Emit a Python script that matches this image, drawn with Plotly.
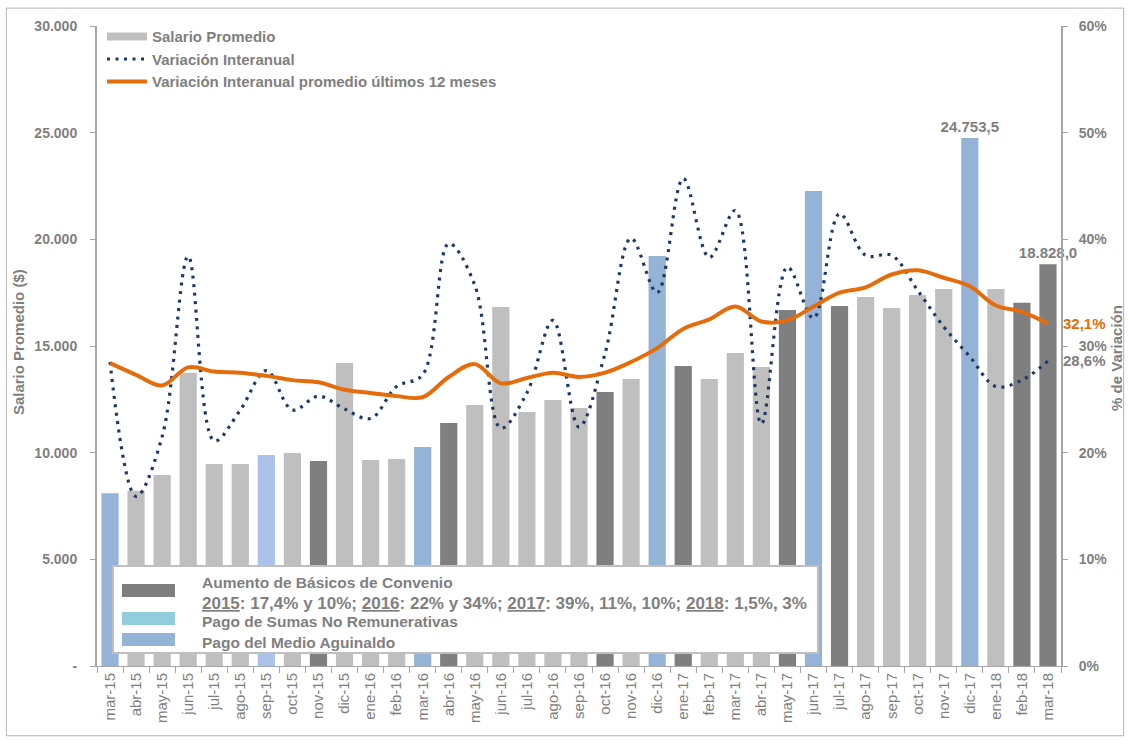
import plotly.graph_objects as go

# ---- data -------------------------------------------------------------
meses = ["mar-15", "abr-15", "may-15", "jun-15", "jul-15", "ago-15", "sep-15", "oct-15",
         "nov-15", "dic-15", "ene-16", "feb-16", "mar-16", "abr-16", "may-16", "jun-16",
         "jul-16", "ago-16", "sep-16", "oct-16", "nov-16", "dic-16", "ene-17", "feb-17",
         "mar-17", "abr-17", "may-17", "jun-17", "jul-17", "ago-17", "sep-17", "oct-17",
         "nov-17", "dic-17", "ene-18", "feb-18", "mar-18"]

salario = [8100, 8220, 8950, 13750, 9470, 9470, 9890, 9990, 9610, 14200, 9660, 9700,
           10270, 11390, 12230, 16830, 11910, 12470, 12090, 12840, 13450, 19220, 14060,
           13450, 14670, 14020, 16690, 22270, 16880, 17300, 16780, 17390, 17670, 24753.5,
           17670, 17030, 18828.0]

# B = salario sin novedades, A = aumento de básicos, G = medio aguinaldo, S = sumas no remunerativas
tipo = ["G", "B", "B", "B", "B", "B", "S", "B", "A", "B", "B", "B", "G", "A", "B", "B",
        "B", "B", "B", "A", "B", "G", "A", "B", "B", "B", "A", "G", "A", "B", "B", "B",
        "B", "G", "B", "A", "A"]

var_interanual = [28.5, 15.9, 21.5, 38.4, 21.1, 24.0, 27.7, 24.0, 25.3, 24.1, 23.2, 26.2,
                  27.3, 39.6, 35.7, 22.3, 25.6, 32.4, 22.4, 29.3, 40.1, 35.0, 45.7, 38.3,
                  42.7, 22.7, 37.4, 32.6, 42.4, 38.5, 38.5, 35.2, 31.8, 29.0, 26.2, 26.8,
                  28.6]

var_prom12 = [28.4, 27.3, 26.3, 28.0, 27.6, 27.5, 27.2, 26.8, 26.6, 25.9, 25.6, 25.3,
              25.2, 27.1, 28.3, 26.5, 27.0, 27.5, 27.1, 27.5, 28.5, 29.8, 31.6, 32.5,
              33.7, 32.3, 32.4, 33.7, 35.0, 35.5, 36.7, 37.1, 36.4, 35.6, 33.8, 33.2,
              32.1]

meses_con_etiqueta = ["dic-17", "mar-18"]

ticks_salario = [0, 5000, 10000, 15000, 20000, 25000, 30000]
ticks_pct = [0, 10, 20, 30, 40, 50, 60]

# ---- styles -----------------------------------------------------------
FONT = "Liberation Sans, Arial, sans-serif"
GRIS_TXT = "#7f7f7f"
GRIS_EJE = "#a6a6a6"
colores = {"B": "#bfbfbf", "A": "#7f7f7f", "G": "#95b3d7", "S": "#abc3ea"}
NAVY = "#1f3864"
NARANJA = "#e46c0a"

fig = go.Figure()

# Bars, one trace per kind of month so each keeps its own colour
for k in ["B", "A", "G", "S"]:
    xs = [m for m, t in zip(meses, tipo) if t == k]
    ys = [v for v, t in zip(salario, tipo) if t == k]
    fig.add_trace(go.Bar(
        x=xs, y=ys, name="Salario Promedio", showlegend=False,
        marker=dict(color=colores[k], line=dict(width=0)),
        texttemplate=["%{y:,.1f}" if m in meses_con_etiqueta else "" for m in xs],
        textposition="outside", cliponaxis=False, constraintext="none",
        outsidetextfont=dict(family=FONT, size=15, color=GRIS_TXT, weight="bold"),
        yaxis="y", hoverinfo="x+y",
    ))

# Legend swatch for the salary bars (wide grey band)
fig.add_trace(go.Scatter(
    x=[None], y=[None], mode="lines", name="Salario Promedio",
    line=dict(color="#bfbfbf", width=8), yaxis="y",
))

fig.add_trace(go.Scatter(
    x=meses, y=var_interanual, name="Variación Interanual", mode="lines",
    line=dict(color=NAVY, width=3.2, dash="3px,5.5px", shape="spline", smoothing=1.0),
    yaxis="y2",
))

fig.add_trace(go.Scatter(
    x=meses, y=var_prom12, name="Variación Interanual promedio últimos 12 meses",
    mode="lines",
    line=dict(color=NARANJA, width=4, shape="spline", smoothing=1.0),
    yaxis="y2",
))

# End-of-line value labels
fig.add_annotation(
    x=meses[-1], y=var_prom12[-1], xref="x", yref="y2",
    text=f"{var_prom12[-1]:.1f}".replace(".", ",") + "%",
    xanchor="left", yanchor="middle", xshift=13, showarrow=False,
    font=dict(family=FONT, size=15, color=NARANJA, weight="bold"),
)
fig.add_annotation(
    x=meses[-1], y=var_interanual[-1], xref="x", yref="y2",
    text=f"{var_interanual[-1]:.1f}".replace(".", ",") + "%",
    xanchor="left", yanchor="middle", xshift=13, showarrow=False,
    font=dict(family=FONT, size=15, color=GRIS_TXT, weight="bold"),
)

# Axis titles
fig.add_annotation(
    x=-0.082, y=0.506, xref="paper", yref="paper", text="Salario Promedio ($)",
    textangle=-90, showarrow=False, xanchor="center", yanchor="middle",
    font=dict(family=FONT, size=15, color=GRIS_TXT, weight="bold"),
)
fig.add_annotation(
    x=1.0575, y=0.482, xref="paper", yref="paper", text="% de Variación",
    textangle=-90, showarrow=False, xanchor="center", yanchor="middle",
    font=dict(family=FONT, size=15, color=GRIS_TXT, weight="bold"),
)

# Colour key box at the bottom of the plot
shapes = [
    dict(type="rect", xref="paper", yref="paper", x0=-0.094, x1=1.065, y0=-0.109, y1=1.028,
         line=dict(color="#b4b4b4", width=1), fillcolor="rgba(0,0,0,0)", layer="below"),
    dict(type="rect", xref="paper", yref="paper", x0=0.0166, x1=0.7479, y0=0.0203, y1=0.1562,
         line=dict(color="#bfbfbf", width=2), fillcolor="white", layer="above"),
    dict(type="rect", xref="paper", yref="paper", x0=0.0259, x1=0.0809, y0=0.1078, y1=0.128,
         line=dict(width=0), fillcolor="#7f7f7f", layer="above"),
    dict(type="rect", xref="paper", yref="paper", x0=0.0259, x1=0.0809, y0=0.0641, y1=0.0844,
         line=dict(width=0), fillcolor="#92cddc", layer="above"),
    dict(type="rect", xref="paper", yref="paper", x0=0.0259, x1=0.0809, y0=0.0312, y1=0.0516,
         line=dict(width=0), fillcolor="#95b3d7", layer="above"),
]

u = '<span style="text-decoration:underline">{}</span>'
clave = [
    (0.1312, 15.5, "Aumento de Básicos de Convenio"),
    (0.0984, 17, u.format("2015") + ": 17,4% y 10%; " + u.format("2016") + ": 22% y 34%; "
                 + u.format("2017") + ": 39%, 11%, 10%; " + u.format("2018") + ": 1,5%, 3%"),
    (0.0688, 15.5, "Pago de Sumas No Remunerativas"),
    (0.0375, 15.5, "Pago del Medio Aguinaldo"),
]
for yy, sz, txt in clave:
    fig.add_annotation(
        x=0.1069, y=yy, xref="paper", yref="paper", text=txt, showarrow=False,
        xanchor="left", yanchor="middle",
        font=dict(family=FONT, size=sz, color=GRIS_TXT, weight="bold"),
    )

fig.update_layout(
    width=1129, height=740,
    margin=dict(l=97, r=68, t=26, b=74),
    paper_bgcolor="white", plot_bgcolor="white",
    separators=",.",
    barmode="overlay", bargap=0.34,
    font=dict(family=FONT, color=GRIS_TXT),
    shapes=shapes,
    showlegend=True,
    legend=dict(
        x=0.0052, y=1.009, xanchor="left", yanchor="top",
        bgcolor="rgba(0,0,0,0)", borderwidth=0, itemwidth=40,
        font=dict(family=FONT, size=15, color=GRIS_TXT, weight="bold"),
        traceorder="normal",
    ),
    xaxis=dict(
        type="category", categoryorder="array", categoryarray=meses,
        range=[-0.5, len(meses) - 0.5],
        tickson="boundaries", ticks="outside", ticklen=6, tickcolor=GRIS_EJE,
        showline=True, linecolor=GRIS_EJE, linewidth=1,
        tickangle=-90, showgrid=False,
        tickfont=dict(family=FONT, size=15, color=GRIS_TXT),
    ),
    yaxis=dict(
        range=[0, 30000], tickvals=ticks_salario,
        ticktext=["-" if v == 0 else f"{v:,.0f}".replace(",", ".") for v in ticks_salario],
        ticks="outside", ticklen=5, tickcolor=GRIS_EJE,
        showline=True, linecolor=GRIS_EJE, linewidth=2,
        showgrid=False, zeroline=False, ticklabelstandoff=10,
        tickfont=dict(family=FONT, size=14, color=GRIS_TXT, weight="bold"),
    ),
    yaxis2=dict(
        range=[0, 60], tickvals=ticks_pct, ticktext=[f"{v}%" for v in ticks_pct],
        overlaying="y", side="right",
        ticks="outside", ticklen=5, tickcolor=GRIS_EJE,
        showline=True, linecolor=GRIS_EJE, linewidth=2,
        showgrid=False, zeroline=False, ticklabelstandoff=8,
        tickfont=dict(family=FONT, size=14, color=GRIS_TXT, weight="bold"),
    ),
)

fig.write_html("out.html")
